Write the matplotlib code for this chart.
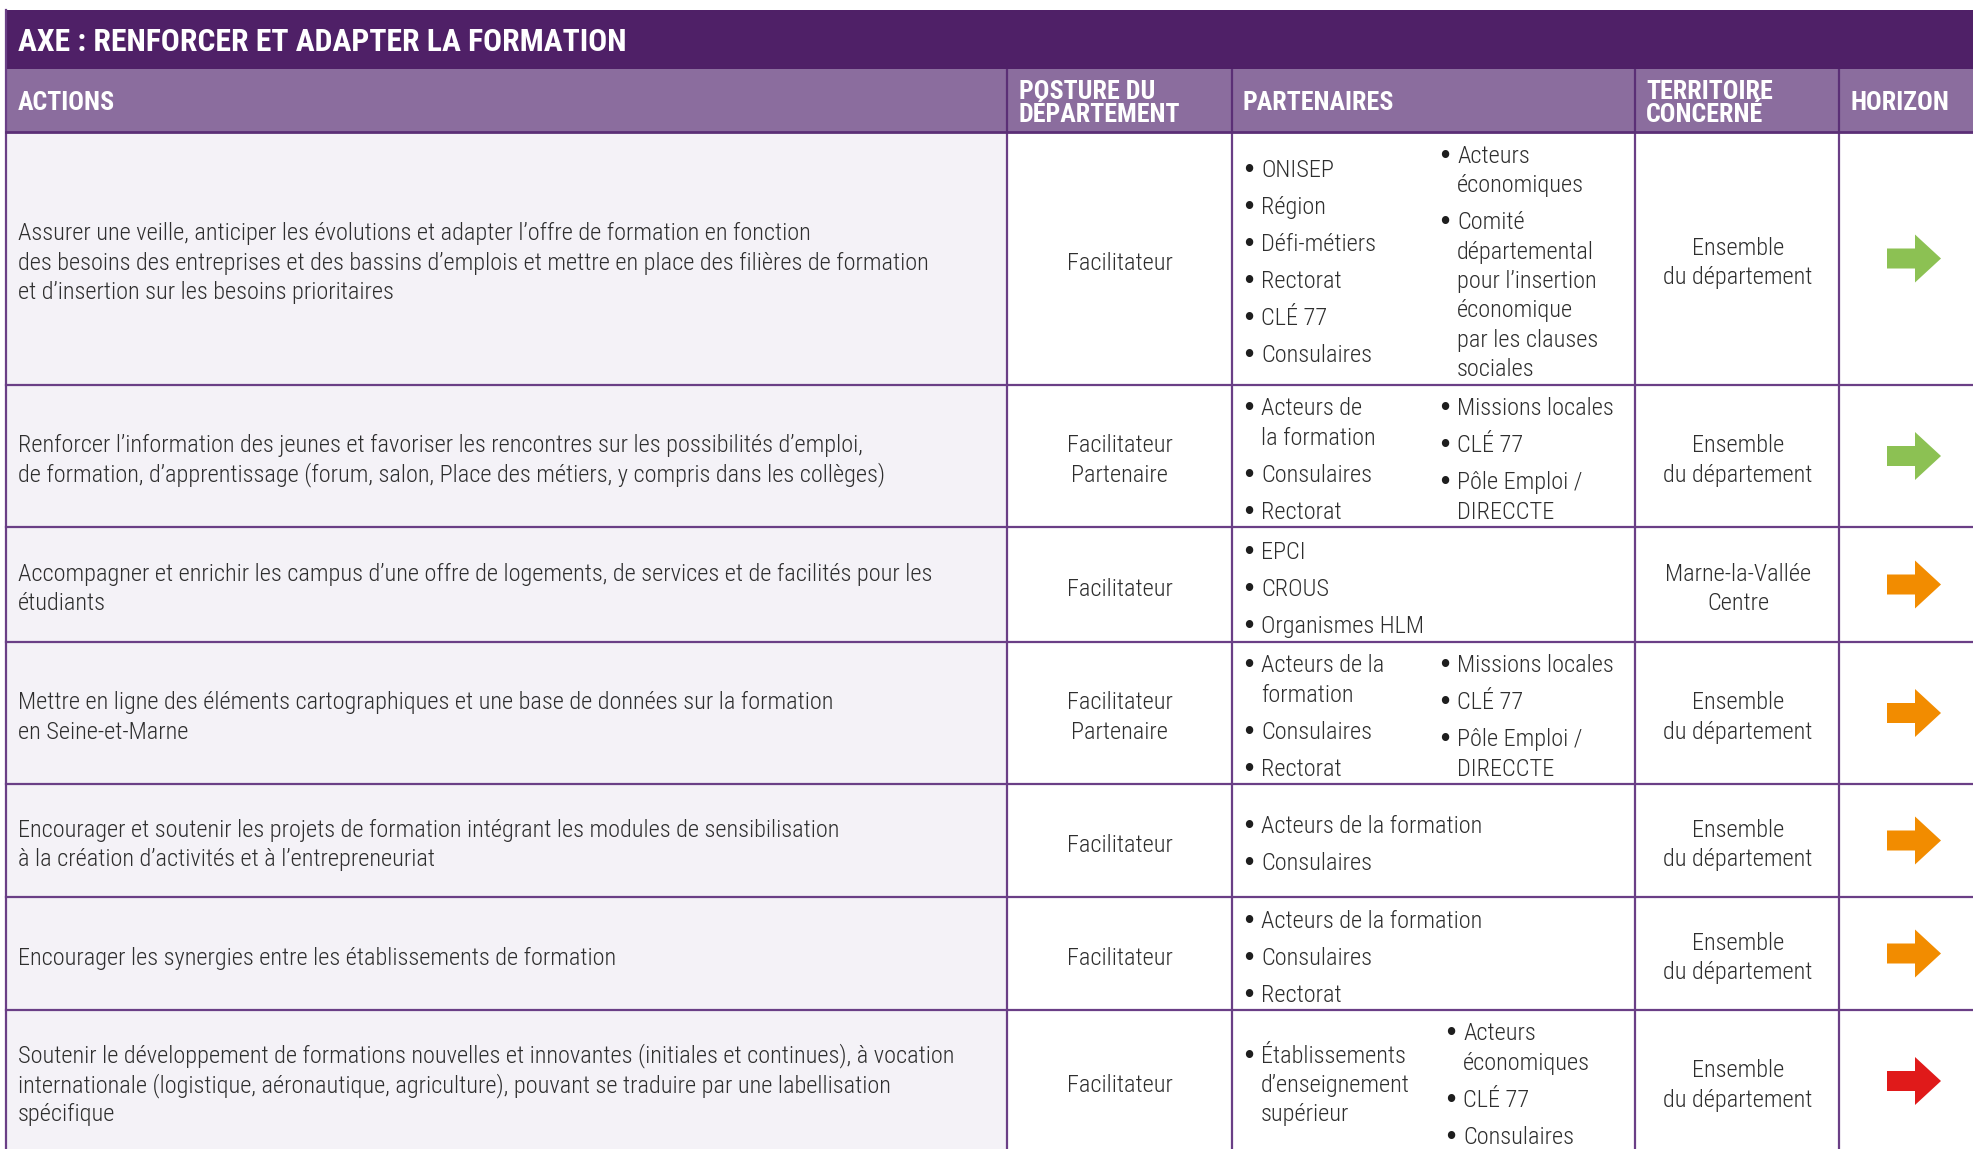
import matplotlib
matplotlib.use("Agg")
import matplotlib.pyplot as plt
from matplotlib import font_manager as fm
from matplotlib.patches import Rectangle, Polygon

# ---------------- data ----------------
title = "AXE : RENFORCER ET ADAPTER LA FORMATION"
headers = ["ACTIONS", "POSTURE DU\nDÉPARTEMENT", "PARTENAIRES", "TERRITOIRE\nCONCERNÉ", "HORIZON"]

actions = [
    "Assurer une veille, anticiper les évolutions et adapter l’offre de formation en fonction\n"
    "des besoins des entreprises et des bassins d’emplois et mettre en place des filières de formation\n"
    "et d’insertion sur les besoins prioritaires",
    "Renforcer l’information des jeunes et favoriser les rencontres sur les possibilités d’emploi,\n"
    "de formation, d’apprentissage (forum, salon, Place des métiers, y compris dans les collèges)",
    "Accompagner et enrichir les campus d’une offre de logements, de services et de facilités pour les\n"
    "étudiants",
    "Mettre en ligne des éléments cartographiques et une base de données sur la formation\n"
    "en Seine-et-Marne",
    "Encourager et soutenir les projets de formation intégrant les modules de sensibilisation\n"
    "à la création d’activités et à l’entrepreneuriat",
    "Encourager les synergies entre les établissements de formation",
    "Soutenir le développement de formations nouvelles et innovantes (initiales et continues), à vocation\n"
    "internationale (logistique, aéronautique, agriculture), pouvant se traduire par une labellisation\n"
    "spécifique",
]

postures = ["Facilitateur", "Facilitateur\nPartenaire", "Facilitateur", "Facilitateur\nPartenaire",
            "Facilitateur", "Facilitateur", "Facilitateur"]

partners_a = [
    ["ONISEP", "Région", "Défi-métiers", "Rectorat", "CLÉ 77", "Consulaires"],
    ["Acteurs de\nla formation", "Consulaires", "Rectorat"],
    ["EPCI", "CROUS", "Organismes HLM"],
    ["Acteurs de la\nformation", "Consulaires", "Rectorat"],
    ["Acteurs de la formation", "Consulaires"],
    ["Acteurs de la formation", "Consulaires", "Rectorat"],
    ["Établissements\nd’enseignement\nsupérieur"],
]
partners_b = [
    ["Acteurs\néconomiques", "Comité\ndépartemental\npour l’insertion\néconomique\npar les clauses\nsociales"],
    ["Missions locales", "CLÉ 77", "Pôle Emploi /\nDIRECCTE"],
    [],
    ["Missions locales", "CLÉ 77", "Pôle Emploi /\nDIRECCTE"],
    [],
    [],
    ["Acteurs\néconomiques", "CLÉ 77", "Consulaires"],
]

territoires = ["Ensemble\ndu département", "Ensemble\ndu département", "Marne-la-Vallée\nCentre",
               "Ensemble\ndu département", "Ensemble\ndu département", "Ensemble\ndu département",
               "Ensemble\ndu département"]

horizons = ["vert", "vert", "orange", "orange", "orange", "orange", "rouge"]

# ---------------- style / layout ----------------
W, H = 1973, 1149
TITLE_BG = "#4f2067"
HEAD_BG = "#8b6d9e"
ACT_BG = "#f4f2f7"
LINE = "#6a3f86"
TXT = "#2e2e2e"
ARROW_COL = {"vert": "#8cc153", "orange": "#f28c00", "rouge": "#e01a1a"}

col_x = [6, 1007, 1232, 1635, 1839, W]
top_title, top_head, top_body = 10, 69, 132
row_y = [132, 385, 527, 642, 784, 897, 1010, 1152]


def pick(cands):
    for c in cands:
        try:
            fm.findfont(fm.FontProperties(family=c), fallback_to_default=False)
            return c
        except Exception:
            pass
    return "DejaVu Sans"


BODY = pick(["Roboto Condensed", "Liberation Sans Narrow", "Open Sans Condensed", "Roboto", "DejaVu Sans"])
FAM = [BODY, "DejaVu Sans"]
BODY_W = "light"

fig = plt.figure(figsize=(W / 100, H / 100), dpi=100)
ax = fig.add_axes([0, 0, 1, 1])
ax.set_xlim(0, W)
ax.set_ylim(H, 0)
ax.axis("off")
renderer = fig.canvas.get_renderer()


def fit(s, target, weight="normal", base=14.0):
    t = ax.text(0, 0, s, fontsize=base, family=FAM, weight=weight)
    w = t.get_window_extent(renderer).width
    t.remove()
    return base * target / w


def unit_pitch(fs, weight):
    t1 = ax.text(0, 0, "A", fontsize=fs, family=FAM, weight=weight)
    t2 = ax.text(0, 0, "A\nA", fontsize=fs, family=FAM, weight=weight, linespacing=1.0)
    d = t2.get_window_extent(renderer).height - t1.get_window_extent(renderer).height
    t1.remove(); t2.remove()
    return d


FS_BODY = fit(actions[0].split("\n")[0], 797, BODY_W)
FS_TITLE = fit(title, 612, "bold")
FS_HEAD = fit("PARTENAIRES", 152, "bold")
PX = FS_BODY / 0.72  # font size in px
L = 29.3   # line pitch
G = 7.7    # extra gap between bullet items
BASE_OFF = 0.33 * PX + 3


def line(x, yc, s, ha="left", color=TXT, fs=None):
    ax.text(x, yc + BASE_OFF, s, ha=ha, va="baseline",
            fontsize=FS_BODY if fs is None else fs, color=color, weight=BODY_W, family=FAM)


def block(x, yc, s, ha="left", pitch=L):
    ls = s.split("\n")
    y0 = yc - (len(ls) - 1) * pitch / 2
    for i, t in enumerate(ls):
        line(x, y0 + i * pitch, t, ha=ha)


def bullets(x, yc, items):
    nl = sum(len(it.split("\n")) for it in items)
    span = (nl - 1) * L + (len(items) - 1) * G
    y = yc - span / 2
    for it in items:
        ax.text(x + 4, y + BASE_OFF + 1, "•", ha="center", va="baseline", fontsize=FS_BODY * 1.05,
                color="#1e1e1e", family=["DejaVu Sans"])
        for t in it.split("\n"):
            line(x + 16, y, t)
            y += L
        y += G


# backgrounds
ax.add_patch(Rectangle((col_x[0], top_title), W - col_x[0], top_head - top_title, color=TITLE_BG, lw=0))
ax.add_patch(Rectangle((col_x[0], top_head), W - col_x[0], top_body - top_head, color=HEAD_BG, lw=0))
ax.add_patch(Rectangle((col_x[0], top_body), col_x[1] - col_x[0], row_y[-1] + 10 - top_body,
                       color=ACT_BG, lw=0))

# title & headers
ax.text(18, 40 + 0.36 * FS_TITLE / 0.72, title, color="white", fontsize=FS_TITLE, weight="bold",
        family=FAM, va="baseline")
head_x = [18, 1019, 1243, 1646, 1850]
HEAD_PITCH = 22.6
ls_head = HEAD_PITCH / unit_pitch(FS_HEAD, "bold")
for hx, h in zip(head_x, headers):
    n = len(h.split("\n"))
    yb_last = 101 + (n - 1) * HEAD_PITCH / 2 + 0.36 * FS_HEAD / 0.72
    ax.text(hx, yb_last, h, color="white", fontsize=FS_HEAD, weight="bold",
            family=FAM, va="baseline", linespacing=ls_head, multialignment="left")

# grid lines
for x in col_x[1:-1]:
    ax.plot([x, x], [top_head, top_body], color="#5b2f76", lw=1.6, solid_capstyle="butt")
    ax.plot([x, x], [top_body, H + 5], color=LINE, lw=1.6, solid_capstyle="butt")
ax.plot([col_x[0], col_x[0]], [top_title, H + 5], color=LINE, lw=1.6)
ax.plot([col_x[0], W], [top_body, top_body], color="#5b2f76", lw=2.0)
for y in row_y[1:-1]:
    ax.plot([col_x[0], W], [y, y], color=LINE, lw=1.6)

# body
bx_b = [1441, 1441, 1441, 1441, 1441, 1441, 1447]
for r in range(len(actions)):
    yc = (row_y[r] + row_y[r + 1]) / 2
    block(18, yc, actions[r])
    block((col_x[1] + col_x[2]) / 2, yc, postures[r], ha="center", pitch=30)
    bullets(1245, yc, partners_a[r])
    if partners_b[r]:
        bullets(bx_b[r], yc, partners_b[r])
    block((col_x[3] + col_x[4]) / 2 + 1, yc, territoires[r], ha="center", pitch=29.5)
    # arrow
    xc = 1914
    pts = [(xc - 27, yc - 10), (xc + 1, yc - 10), (xc + 1, yc - 24), (xc + 27, yc),
           (xc + 1, yc + 24), (xc + 1, yc + 10), (xc - 27, yc + 10)]
    ax.add_patch(Polygon(pts, closed=True, color=ARROW_COL[horizons[r]], lw=0))

fig.savefig("out.png", dpi=100)
